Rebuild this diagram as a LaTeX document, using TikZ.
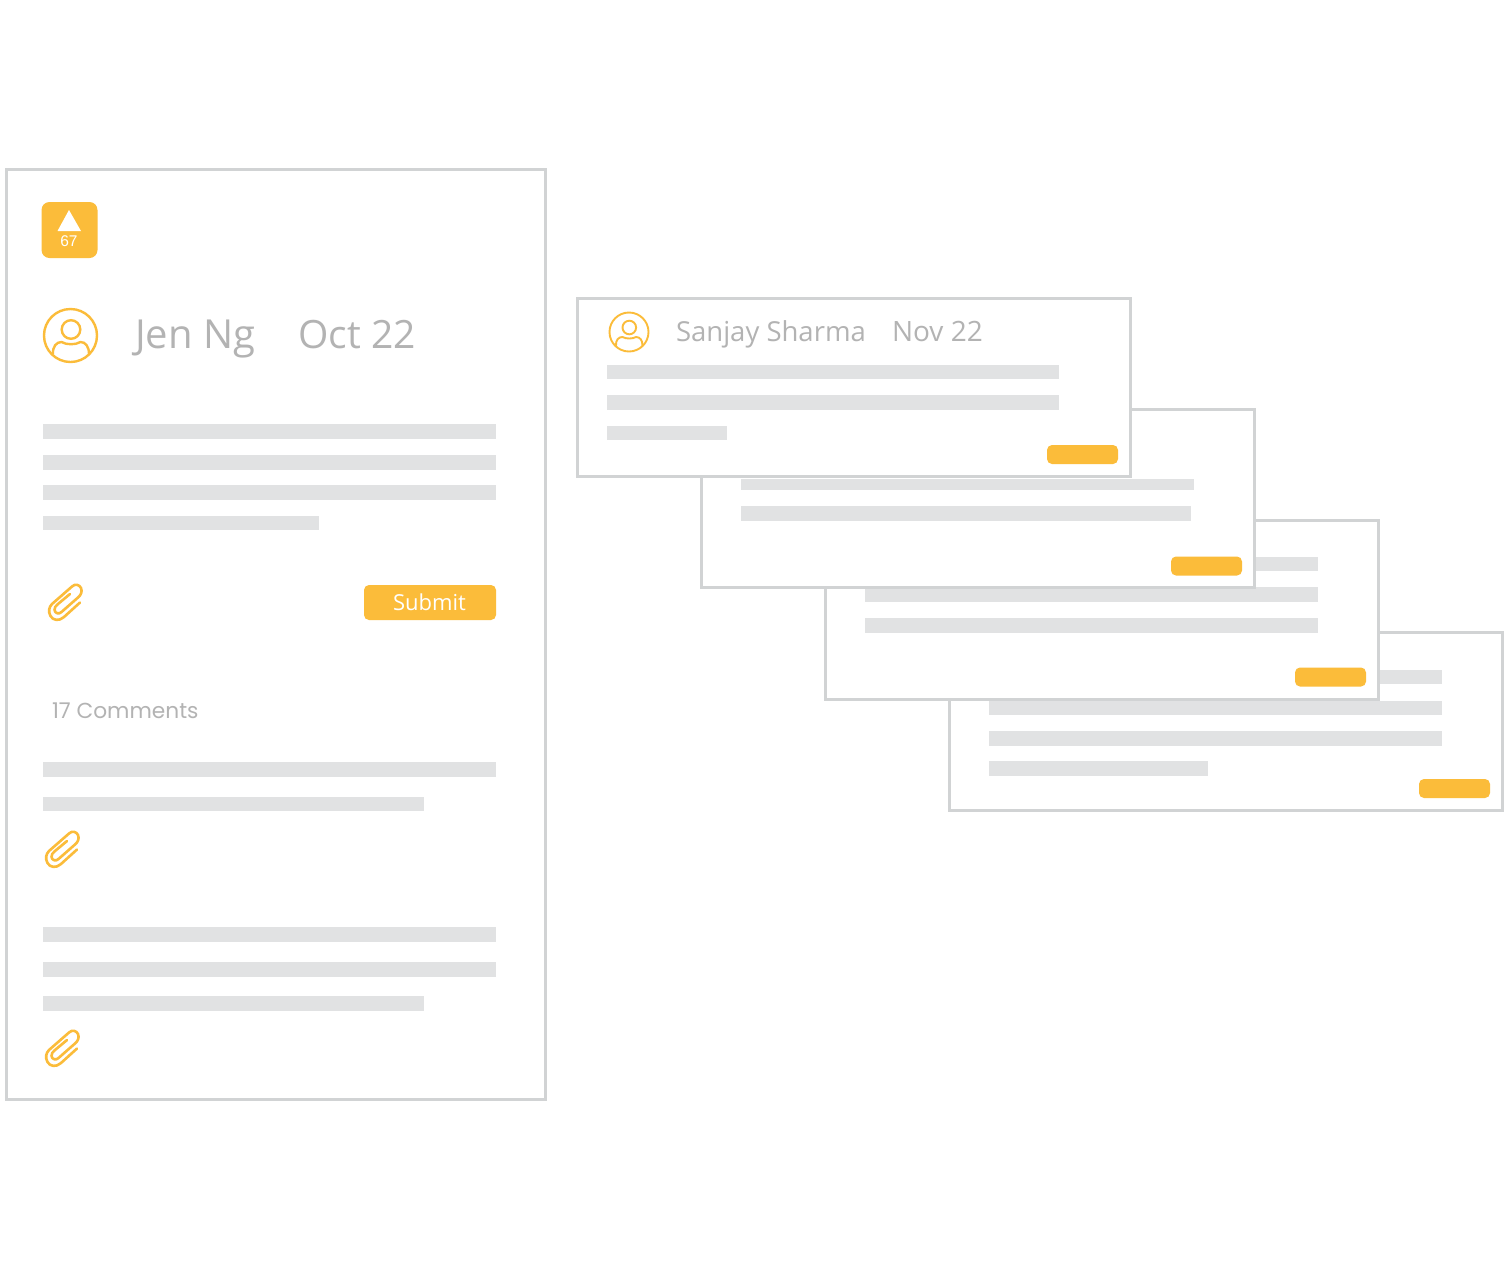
\documentclass[tikz,border=0pt]{standalone}
\usepackage{fontspec}
\setmainfont{Open Sans}
\newfontfamily\popp{Poppins}
\newfontfamily\arialf{Liberation Sans}
\definecolor{frameC}{HTML}{D1D3D4}
\definecolor{barC}{HTML}{E1E2E3}
\definecolor{orangeC}{HTML}{FBBC3A}
\definecolor{textC}{HTML}{B3B3B3}
\tikzset{
  x=1pt,y=-1pt,
  card/.style={draw=frameC,line width=3pt,fill=white},
  bar/.style={fill=barC},
  btn/.style={fill=orangeC,rounded corners=5pt},
  lbl/.style={text=textC,anchor=base west,inner sep=0pt,outer sep=0pt},
  clip icon/.pic={
    \draw[orangeC,line width=2.6pt,line cap=round,line join=round]
      (15,0.5) -- (-1,15) .. controls (-6,19.5) and (-12,18.5) .. (-14.5,14)
      .. controls (-17,9.5) and (-16,5) .. (-13,2) -- (7,-15.5)
      .. controls (10,-18.5) and (14.5,-17.5) .. (16,-14)
      .. controls (17.5,-10.5) and (16,-7) .. (13,-4.5) -- (-3.5,10)
      .. controls (-6,12.5) and (-10,11.5) .. (-10.5,8)
      .. controls (-11,5.5) and (-9,4) .. (-7,2) -- (5,-8);
  },
  person/.pic={
    \draw[orangeC,line width=2.4pt] (0,0) circle[radius=26.5];
    \draw[orangeC,line width=2.4pt] (0.5,-6) circle[radius=9.3];
    \draw[orangeC,line width=2.4pt] (-17.5,18.5) .. controls (-18,11) and (-14,6.5) .. (-9,6.5)
      .. controls (-4,9.5) and (5,9.5) .. (10,6.5) .. controls (15,6.5) and (18.5,11) .. (18.5,18.5);
  },
  person small/.pic={
    \draw[orangeC,line width=1.9pt] (0,0) circle[radius=19.5];
    \draw[orangeC,line width=1.9pt] (0.3,-4.5) circle[radius=6.8];
    \draw[orangeC,line width=1.9pt] (-13,13.8) .. controls (-13.5,8) and (-10.5,5) .. (-6.5,5)
      .. controls (-3,7) and (3.5,7) .. (7,5) .. controls (11,5) and (13.5,8) .. (13.5,13.8);
  },
}
\begin{document}
\begin{tikzpicture}
\useasboundingbox (0,0) rectangle (1509,1270);
% main card
\draw[card] (6.5,169.5) rectangle (545.5,1099);
\fill[orangeC,rounded corners=8pt] (41.5,202) rectangle (97.5,258);
\fill[white] (69,210) -- (81,231) -- (57.5,231) -- cycle;
\node[inner sep=0pt,text=white,font=\arialf\fontsize{15.5}{17}\selectfont] (votes) at (69,241.5) {67};
\pic at (70.5,335.5) {person};
\node[lbl,font=\fontsize{40}{44}\selectfont] (author) at (135,348) {Jen Ng};
\node[lbl,font=\fontsize{39}{44}\selectfont] (date) at (298.5,348) {Oct 22};
\foreach \t/\b/\r in {424/439/496,455/470/496,485/500/496,516/530/319,762/777/496,797/811/424,927/942/496,962/977/496,996/1011/424}
  \fill[bar] (43,\t) rectangle (\r,\b);
\pic at (65,602) {clip icon};
\pic at (62,849) {clip icon};
\pic at (62,1048) {clip icon};
\fill[btn] (364,585) rectangle (496,620);
\node[inner sep=0pt,text=white,font=\fontsize{22}{26}\selectfont] (submit) at (429.5,602) {Submit};
\node[lbl,font=\popp\fontsize{21.7}{24}\selectfont] (comments) at (52,718.5) {17 Comments};
% card 4
\draw[card] (949,632) rectangle (1502.5,810);
\foreach \t/\b/\r in {670/684/1442,701/715/1442,731/746/1442,761/776/1208}
  \fill[bar] (989,\t) rectangle (\r,\b);
\fill[btn] (1419,779) rectangle (1490,798);
% card 3
\draw[card] (825,520.5) rectangle (1378.5,699);
\foreach \t/\b in {557/571,587/601.5,618/633}
  \fill[bar] (865,\t) rectangle (1318,\b);
\fill[btn] (1295,667.5) rectangle (1366,686.5);
% card 2
\draw[card] (701,409.5) rectangle (1254.5,587.5);
\fill[bar] (741,479) rectangle (1194,490);
\fill[bar] (741,506) rectangle (1191,521);
\fill[btn] (1171,556.5) rectangle (1242,575.5);
% card 1
\draw[card] (577,298.5) rectangle (1130.5,476.5);
\foreach \t/\b/\r in {365/379/1059,395/410/1059,426/440/727}
  \fill[bar] (607,\t) rectangle (\r,\b);
\fill[btn] (1047,445) rectangle (1118,464);
\pic at (629,332) {person small};
\node[lbl,font=\fontsize{27.5}{32}\selectfont] (author2) at (676,341) {Sanjay Sharma};
\node[lbl,font=\fontsize{28}{32}\selectfont] (date2) at (892,341) {Nov 22};
\end{tikzpicture}
\end{document}
